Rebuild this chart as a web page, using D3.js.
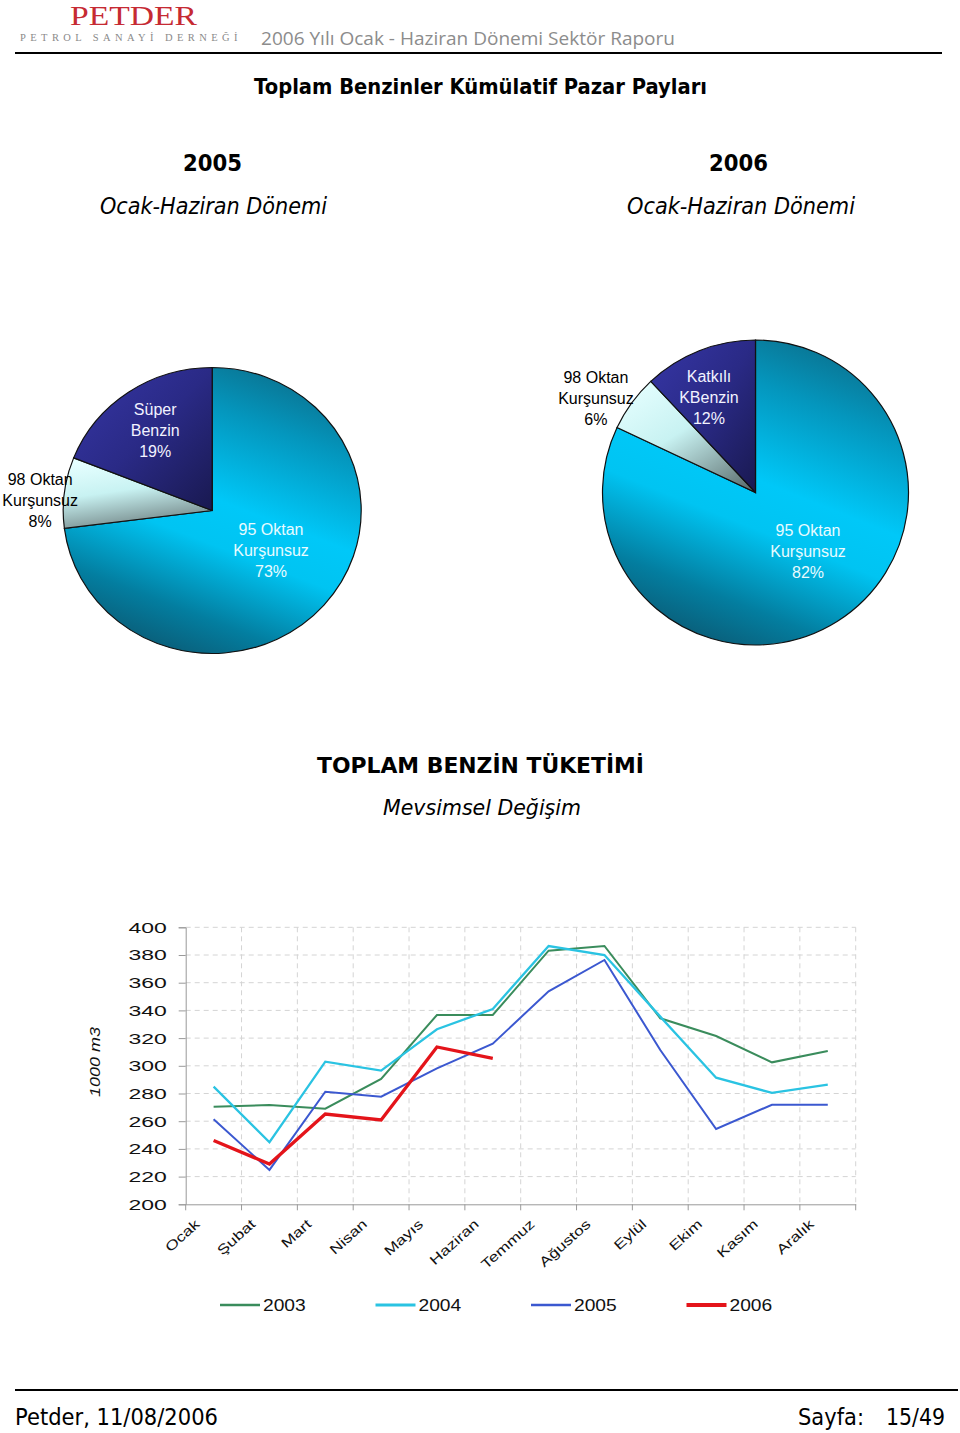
<!DOCTYPE html>
<html><head><meta charset="utf-8">
<script src="https://cdn.jsdelivr.net/npm/d3@7"></script>
<style>body{margin:0;background:#fff}svg{display:block}</style>
</head><body>
<svg id="c" width="960" height="1433"></svg>
<script>
// ---------- DATA ----------
const pie2005Labels = ["95 Oktan|Kurşunsuz", "98 Oktan|Kurşunsuz", "Süper|Benzin"];
const pie2005Values = [73, 8, 19];
const pie2006Labels = ["95 Oktan|Kurşunsuz", "98 Oktan|Kurşunsuz", "Katkılı|KBenzin"];
const pie2006Values = [82, 6, 12];

const months = ["Ocak","Şubat","Mart","Nisan","Mayıs","Haziran","Temmuz","Ağustos","Eylül","Ekim","Kasım","Aralık"];
const seriesNames = ["2003","2004","2005","2006"];
const s2003 = [270.5, 271.7, 269, 290.5, 336.7, 336.7, 383.1, 386.5, 334.3, 321.5, 302.5, 310.7];
const s2004 = [285, 244.8, 303, 296.5, 326.4, 341, 386.5, 380, 335.5, 291.4, 280.4, 286.4];
const s2005 = [261.4, 224.8, 281.3, 277.7, 298.2, 316, 353.8, 376.4, 311.4, 254.4, 271.9, 271.9];
const s2006 = [246, 229.1, 265.2, 260.9, 313.6, 305.4];
const yTicks = [200,220,240,260,280,300,320,340,360,380,400];

// ---------- HELPERS ----------
const svg = d3.select("#c");
function fit(sel, w){ sel.attr("textLength", w).attr("lengthAdjust","spacingAndGlyphs"); return sel; }
function stretch(sel, k){ sel.each(function(){ const n=this.getComputedTextLength(); d3.select(this).attr("textLength", n*k).attr("lengthAdjust","spacingAndGlyphs"); }); }

// ---------- HEADER ----------
svg.append("text").attr("x",133.5).attr("y",25).attr("text-anchor","middle")
  .attr("font-family","Liberation Serif").attr("font-size",28).attr("fill","#c62a33")
  .text("PETDER").call(fit,127);
svg.append("text").attr("x",131).attr("y",41).attr("text-anchor","middle")
  .attr("font-family","Liberation Serif").attr("font-size",9.5).attr("fill","#8a8a8a")
  .attr("letter-spacing",4).text("PETROL SANAYİ DERNEĞİ").call(fit,222);
svg.append("text").attr("x",261).attr("y",45)
  .attr("font-family","Open Sans").attr("font-size",19).attr("fill","#8c8c8c")
  .text("2006 Yılı Ocak - Haziran Dönemi Sektör Raporu").call(fit,414);
svg.append("line").attr("x1",15).attr("x2",942).attr("y1",53).attr("y2",53).attr("stroke","#000").attr("stroke-width",2);

// ---------- TITLES ----------
function title(txt, x, y, size, w, opts={}){
  const t = svg.append("text").attr("x",x).attr("y",y).attr("text-anchor","middle")
    .attr("font-family","DejaVu Sans").attr("font-size",size).attr("fill","#000")
    .attr("font-weight",opts.bold?"bold":"normal").attr("font-style",opts.italic?"italic":"normal")
    .text(txt);
  if(w) fit(t,w);
  return t;
}
title("Toplam Benzinler Kümülatif Pazar Payları",480.5,94,20.5,453,{bold:true});
title("2005",212.5,171,23,59,{bold:true});
title("2006",738.5,171,23,59,{bold:true});
title("Ocak-Haziran Dönemi",213.5,214,23,227,{italic:true});
title("Ocak-Haziran Dönemi",741,214,23,228,{italic:true});
title("TOPLAM BENZİN TÜKETİMİ",480.5,773,22,327,{bold:true});
title("Mevsimsel Değişim",482,815,22,198,{italic:true});

// ---------- PIE GRADIENTS ----------
const defs = svg.append("defs");
function grad(id, x1,y1,x2,y2, stops){
  const g = defs.append("linearGradient").attr("id",id)
    .attr("x1",x1).attr("y1",y1).attr("x2",x2).attr("y2",y2);
  stops.forEach(s=>g.append("stop").attr("offset",s[0]).attr("stop-color",s[1]));
}
grad("g95",0.75,0,0.35,1,[[0,"#0b6f8c"],[0.2,"#0496bd"],[0.48,"#00c8f8"],[0.62,"#00c4f2"],[0.85,"#037ea0"],[1,"#0a5d78"]]);
grad("g98a",0.3,0,0.6,1,[[0,"#e6ffff"],[0.45,"#c8f2f2"],[1,"#6d7f80"]]);
grad("g98b",0.1,0,0.9,1,[[0,"#e6ffff"],[0.45,"#c8f2f2"],[1,"#5d7070"]]);
grad("gsup",0,0,1,1,[[0,"#3636a6"],[0.5,"#2a2a86"],[1,"#191950"]]);

function drawPie(values, labels, cx, cy, rx, ry, fills, labelPos){
  const pie = d3.pie().sort(null).value(d=>d);
  const arcs = pie(values);
  const arc = d3.arc().innerRadius(0).outerRadius(rx);
  const g = svg.append("g").attr("transform",`translate(${cx},${cy}) scale(1,${ry/rx})`);
  g.selectAll("path").data(arcs).join("path")
    .attr("d",arc).attr("fill",(d,i)=>fills[i])
    .attr("stroke","#111").attr("stroke-width",1.2).attr("vector-effect","non-scaling-stroke");
  const lg = svg.append("g").attr("transform",`translate(${cx},${cy})`);
  arcs.forEach((a,i)=>{
    const p = labelPos[i];
    const ang = p[0]*Math.PI/180;
    const lx = p[1]*Math.sin(ang), ly = -p[1]*Math.cos(ang);
    const lines = labels[i].split("|").concat([values[i]+"%"]);
    const t = lg.append("text").attr("text-anchor","middle")
      .attr("font-family","Liberation Sans").attr("font-size",16)
      .attr("fill", p[2]);
    lines.forEach((ln,k)=>{
      t.append("tspan").attr("x",lx).attr("y",ly + (k-1)*21 + 5.5).text(ln);
    });
  });
}
drawPie(pie2005Values, pie2005Labels, 212.2, 510.5, 149, 143,
  ["url(#g95)","url(#g98a)","url(#gsup)"],
  [[124,71,"#e8fbff"],[273.2,172.3,"#000"],[324.5,98.2,"#f2f2ff"]]);
drawPie(pie2006Values, pie2006Labels, 755.5, 492.5, 153, 152.5,
  ["url(#g95)","url(#g98b)","url(#gsup)"],
  [[138.3,79,"#e8fbff"],[300.6,185.4,"#000"],[334,106.2,"#f2f2ff"]]);

// ---------- LINE CHART ----------
const x = d3.scaleBand().domain(months).range([185.7,855.7]);
const y = d3.scaleLinear().domain([200,400]).range([1204.3,927.3]);
const cg = svg.append("g");

// grid
cg.selectAll(".hg").data(yTicks.filter(v=>v>200)).join("line")
  .attr("x1",x.range()[0]).attr("x2",x.range()[1]).attr("y1",d=>y(d)).attr("y2",d=>y(d))
  .attr("stroke","#d4d4d4").attr("stroke-dasharray","5,4");
const bounds = months.map(m=>x(m)).concat([x.range()[1]]);
cg.selectAll(".vg").data(bounds.slice(1)).join("line")
  .attr("x1",d=>d).attr("x2",d=>d).attr("y1",y(400)).attr("y2",y(200))
  .attr("stroke","#d4d4d4").attr("stroke-dasharray","5,4");

// y axis
const ya = cg.append("g").attr("transform",`translate(${x.range()[0]},0)`)
  .call(d3.axisLeft(y).tickValues(yTicks).tickSize(7).tickPadding(12).tickFormat(d3.format("d")));
ya.select(".domain").attr("stroke","#999");
ya.selectAll(".tick line").attr("stroke","#999");
ya.selectAll("text").attr("font-family","Liberation Sans").attr("font-size",15.5).attr("fill","#111");
stretch(ya.selectAll("text"),1.48);

// x axis
const xa = cg.append("g").attr("transform",`translate(0,${y(200)})`)
  .call(d3.axisBottom(x).tickSize(0).tickFormat(""));
xa.select(".domain").attr("stroke","#999");
xa.selectAll(".bt").data(bounds).join("line").attr("class","bt")
  .attr("x1",d=>d).attr("x2",d=>d).attr("y1",0).attr("y2",6).attr("stroke","#999");
const xl = cg.selectAll(".xl").data(months).join("text")
  .attr("transform",d=>`translate(${x(d)+x.bandwidth()/2-13},${y(200)+21}) rotate(-42)`)
  .attr("text-anchor","end").attr("font-family","Liberation Sans").attr("font-size",13.5)
  .attr("fill","#111").text(d=>d);
stretch(xl,1.3);

// y label
const yl = cg.append("text").attr("transform","translate(100,1062) rotate(-90)")
  .attr("text-anchor","middle").attr("font-family","Liberation Sans").attr("font-style","italic")
  .attr("font-size",15).attr("fill","#111").text("1000 m3");
fit(yl,70);

// lines
const colors = ["#3a8c5c","#2ac3e2","#3b58d0","#e4141a"];
const widths = [2,2.3,2,3.3];
const allSeries = [s2003,s2004,s2005,s2006];
const line = d3.line().x((d,i)=>x(months[i])+x.bandwidth()/2).y(d=>y(d));
cg.selectAll(".sl").data(allSeries).join("path")
  .attr("d",d=>line(d)).attr("fill","none")
  .attr("stroke",(d,i)=>colors[i]).attr("stroke-width",(d,i)=>widths[i])
  .attr("stroke-linejoin","miter");

// legend
const lgd = cg.selectAll(".lg").data(seriesNames).join("g")
  .attr("transform",(d,i)=>`translate(${220+i*155.5},1305)`);
lgd.append("line").attr("x1",0).attr("x2",40).attr("y1",0).attr("y2",0)
  .attr("stroke",(d,i)=>colors[i]).attr("stroke-width",(d,i)=>widths[i]+0.5);
const lt = lgd.append("text").attr("x",43).attr("y",6).attr("font-family","Liberation Sans")
  .attr("font-size",16).attr("fill","#111").text(d=>d);
stretch(lt,1.2);

// ---------- FOOTER ----------
svg.append("line").attr("x1",15).attr("x2",958).attr("y1",1390).attr("y2",1390).attr("stroke","#000").attr("stroke-width",2);
svg.append("text").attr("x",15).attr("y",1425).attr("font-family","DejaVu Sans").attr("font-size",23)
  .attr("fill","#000").text("Petder, 11/08/2006").call(fit,203);
svg.append("text").attr("x",798).attr("y",1425).attr("font-family","DejaVu Sans").attr("font-size",23)
  .attr("fill","#000").text("Sayfa:").call(fit,66);
svg.append("text").attr("x",886).attr("y",1425).attr("font-family","DejaVu Sans").attr("font-size",23)
  .attr("fill","#000").text("15/49").call(fit,59);
</script>
</body></html>
